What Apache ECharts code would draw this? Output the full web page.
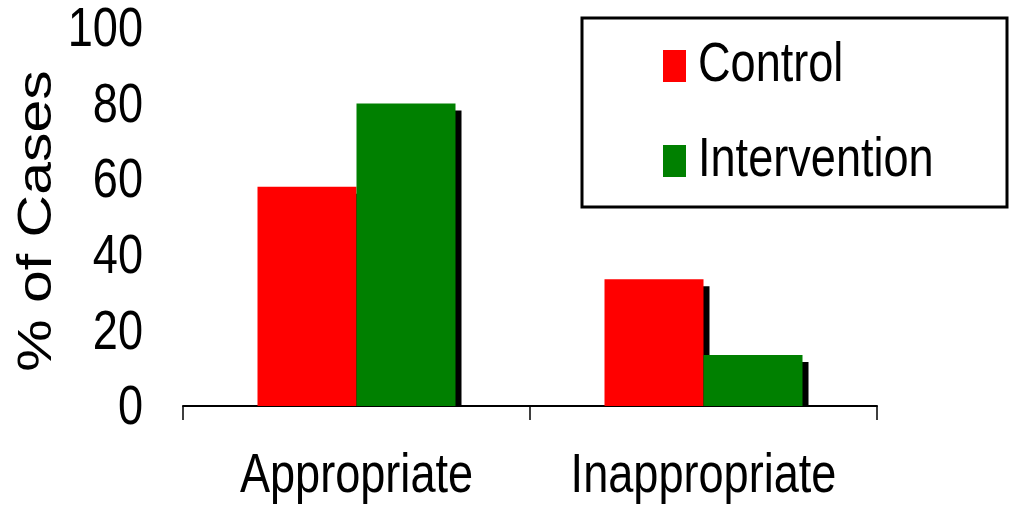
<!DOCTYPE html>
<html>
<head>
<meta charset="utf-8">
<script src="https://cdn.jsdelivr.net/npm/echarts@6/dist/echarts.min.js"></script>
<style>
  html, body { margin: 0; padding: 0; background: #fff; }
  #chart { width: 1011px; height: 511px; }
</style>
</head>
<body>
<div id="chart"></div>
<script>
// Share of cases judged appropriate / inappropriate, by study arm
const categories = ['Appropriate', 'Inappropriate'];
const seriesNames = ['Control', 'Intervention'];
const seriesColors = ['#ff0000', '#008000'];
const controlValues = [58, 33.5];
const interventionValues = [80, 13.5];
const yTicks = [0, 20, 40, 60, 80, 100];
const yTitle = '% of Cases';

// Narrow sans look: regular sans squeezed horizontally
const FONT = '55px "Liberation Sans", Arial, sans-serif';
const NARROW = 0.82;
const BAR_W = 99;
const SHADOW_DX = 6, SHADOW_DY = 7;

// Drop shadow behind each bar, resting on the axis line
function shadowSeries(values, side) {
  return {
    type: 'custom',
    z: 1,
    silent: true,
    data: values.map((v, i) => [i, v]),
    renderItem: function (params, api) {
      const i = api.value(0), v = api.value(1);
      const top = api.coord([i, v]);
      const base = api.coord([i, 0]);
      const x0 = side < 0 ? top[0] - BAR_W : top[0];
      return {
        type: 'rect',
        shape: { x: x0 + SHADOW_DX, y: top[1] + SHADOW_DY, width: BAR_W, height: base[1] - top[1] - SHADOW_DY },
        style: { fill: '#000' }
      };
    }
  };
}

const chart = echarts.init(document.getElementById('chart'));
chart.setOption({
  animation: false,
  backgroundColor: '#fff',
  grid: { left: 183, right: 134, top: 28, bottom: 105 },
  legend: { show: false, data: seriesNames },
  xAxis: {
    type: 'category',
    data: categories,
    axisLine: { lineStyle: { color: '#000', width: 2 } },
    axisTick: { show: true, interval: 0, length: 14, lineStyle: { color: '#000', width: 1.5 } },
    axisLabel: { show: false }
  },
  yAxis: {
    type: 'value',
    min: 0, max: 100, interval: 20,
    axisLine: { show: false },
    axisTick: { show: false },
    splitLine: { show: false },
    axisLabel: { show: false }
  },
  series: [
    shadowSeries(controlValues, -1),
    shadowSeries(interventionValues, 1),
    {
      name: seriesNames[0], type: 'bar', z: 2,
      data: controlValues, barWidth: BAR_W, barGap: '0%',
      itemStyle: { color: seriesColors[0] }
    },
    {
      name: seriesNames[1], type: 'bar', z: 3,
      data: interventionValues, barWidth: BAR_W, barGap: '0%',
      itemStyle: { color: seriesColors[1] }
    }
  ]
});

// Condensed text: tick labels, category labels, axis title and legend
function label(text, x, y, align, extra) {
  return Object.assign({
    type: 'text', x: x, y: y, scaleX: NARROW, silent: true,
    style: { text: text, font: FONT, fill: '#000', textAlign: align, textVerticalAlign: 'middle', align: align, verticalAlign: 'middle' }
  }, extra || {});
}

const graphics = [];
yTicks.forEach(v => {
  const py = chart.convertToPixel({ yAxisIndex: 0 }, v);
  graphics.push(label(String(v), 143, py + 3, 'right'));
});
categories.forEach((c, i) => {
  const px = chart.convertToPixel({ xAxisIndex: 0 }, i);
  const py = chart.convertToPixel({ yAxisIndex: 0 }, 0);
  graphics.push(label(c, px, py + 71, 'center'));
});
graphics.push({
  type: 'text', x: 38, y: 221, rotation: Math.PI / 2, scaleX: 1, scaleY: 0.8, silent: true,
  style: { text: yTitle, font: '59px "Liberation Sans", Arial, sans-serif', fill: '#000',
           textAlign: 'center', textVerticalAlign: 'middle', align: 'center', verticalAlign: 'middle' }
});

// Legend box
graphics.push({
  type: 'rect', silent: true,
  shape: { x: 582, y: 18, width: 425, height: 189 },
  style: { fill: '#fff', stroke: '#000', lineWidth: 3 }
});
const legendRows = [66, 161];
seriesNames.forEach((name, k) => {
  graphics.push({
    type: 'rect', silent: true,
    shape: { x: 663, y: legendRows[k] - 16, width: 23, height: 32 },
    style: { fill: seriesColors[k] }
  });
  graphics.push(label(name, 698, legendRows[k], 'left'));
});

chart.setOption({ graphic: graphics });
</script>
</body>
</html>
